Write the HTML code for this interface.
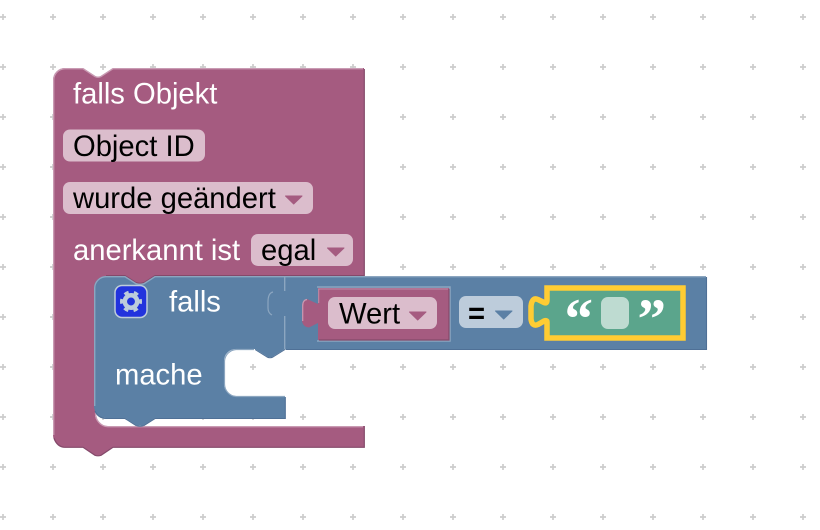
<!DOCTYPE html>
<html><head><meta charset="utf-8">
<style>
html,body{margin:0;padding:0;background:#fff;width:820px;height:530px;overflow:hidden}
svg{display:block}
text{font-family:"Liberation Sans",sans-serif;font-size:29.2px}
.w{fill:#fff}.k{fill:#000}
</style></head><body>
<svg width="820" height="530" viewBox="0 0 820 530" xmlns="http://www.w3.org/2000/svg">
<defs>
<pattern id="g" x="0" y="-8" width="50" height="50" patternUnits="userSpaceOnUse">
<path d="M0,25 h6 M3,22 v6" stroke="#ccc" stroke-width="1.7" fill="none"/>
</pattern>
</defs>
<rect width="820" height="530" fill="#fff"/>
<rect width="820" height="530" fill="url(#g)"/>

<!-- outer block -->
<path d="M53,80 A12,12 0 0 1 65,68 H83 L95,76 Q98,77.5 101,76 L113,68 H364 V290 H95 V414 A12,12 0 0 0 107,426 H364 V447 H113 L101,455 Q98,456 95,455 L83,447 H65 A12,12 0 0 1 53,435 Z" fill="#a55b80"/>
<path d="M53.7,435 V80 A11.5,11.5 0 0 1 65,68.7 H83 L95,76.5 Q98,78 101,76.5 L113,68.7 H363" fill="none" stroke="#c99bb3" stroke-width="1.4"/>
<path d="M95.7,412 A13,13 0 0 0 108,426.7 H363" fill="none" stroke="#c99bb3" stroke-width="1.4"/>
<path d="M364.3,69 V276 M364.3,426 V447.3 H113 L101,455.3 Q98,456.3 95,455.3 L83,447.3 H65 Q57,447 54,438" fill="none" stroke="#84496a" stroke-width="1.2"/>
<path d="M106,275.500 H125 L136,282.500 Q140,284 144,282.500 L155,275.500 H364" fill="none" stroke="#84496a" stroke-width="1"/>

<text class="w" x="73" y="103.500">falls Objekt</text>
<rect x="63" y="129.500" width="142" height="32" rx="7" fill="#dbbdcc"/>
<text class="k" x="73" y="156">Object ID</text>
<rect x="63" y="182" width="250" height="32" rx="7" fill="#dbbdcc"/>
<text class="k" x="73" y="208">wurde geändert</text>
<path d="M285.500,196 H302 L293.700,204 Z" fill="#a55b80" stroke="#a55b80" stroke-width="1" stroke-linejoin="round"/>
<text class="w" x="73" y="260">anerkannt ist</text>
<rect x="251" y="234" width="102" height="32" rx="7" fill="#dbbdcc"/>
<text class="k" x="261" y="260">egal</text>
<path d="M327.500,248 H344 L335.700,256 Z" fill="#a55b80" stroke="#a55b80" stroke-width="1" stroke-linejoin="round"/>

<!-- blue block -->
<path d="M94,288 A12,12 0 0 1 106,276 H125 L136,283 Q140,284.500 144,283 L155,276 H706 V349 H285 L273,356.500 Q270,358 267,356.500 L255,349 H236 A12,12 0 0 0 224,361 V384 A12,12 0 0 0 236,396 H285 V418 H155 L144,425 Q140,426.500 136,425 L125,418 H106 A12,12 0 0 1 94,406 Z" fill="#5b80a5"/>
<path d="M94.700,406 V288 A11.500,11.500 0 0 1 106,276.700 H125 L136,283.700 Q140,285 144,283.700 L155,276.700 H706" fill="none" stroke="#8ca6c0" stroke-width="1.400"/>
<path d="M284.700,277 V291 M284.700,316 V349" fill="none" stroke="#8ca6c0" stroke-width="1.400"/>
<path d="M273,292 Q268,293 268,302 V308 Q268,313 272,315" fill="none" stroke="#8ca6c0" stroke-width="1.200"/>
<path d="M254,349.500 H236 A12.500,12.500 0 0 0 224.500,361 V384 A12.500,12.500 0 0 0 236,396.500 H285" fill="none" stroke="#8ca6c0" stroke-width="1.200"/>
<path d="M706.500,277 V349.500 H285.500 M285.300,397 V418.500 H155 L144,425.500 Q140,427 136,425.500 L125,418.500 H106 Q98,418 95,411" fill="none" stroke="#4f7096" stroke-width="1.100"/>
<path d="M285,349.500 L273,357 Q270,358.500 267,357 L255,349.500" fill="none" stroke="#4f7096" stroke-width="1"/>

<!-- gear icon -->
<rect x="115" y="285.500" width="32" height="32" rx="7" fill="#2233dd" stroke="#bdccdb" stroke-width="1.500"/>
<circle cx="131" cy="301.500" r="6.200" fill="none" stroke="#bdccdb" stroke-width="4.500"/>
<circle cx="131" cy="301.500" r="9.300" fill="none" stroke="#bdccdb" stroke-width="3.400" stroke-dasharray="4.500 5.240" transform="rotate(-14 131 301.500)"/>

<text class="w" x="169" y="311.500">falls</text>
<text class="w" x="115" y="384.500">mache</text>

<!-- Wert block -->
<path d="M317,287 H450 V341 H317" fill="none" stroke="#8ca6c0" stroke-width="1.500"/>
<path d="M318,288 H449 V340 H318 V323 L309,327.500 Q303,327 302,321 V306 Q302,300 307,299 L318,304 Z" fill="#a55b80"/>
<path d="M318.700,303 V289 H448" fill="none" stroke="#c08ea7" stroke-width="1"/>
<path d="M302.700,321 V306 Q302.700,300 307,299.500" fill="none" stroke="#c99bb3" stroke-width="1.200"/>
<path d="M449,289 V340 H319" fill="none" stroke="#84496a" stroke-width="1.200"/>
<rect x="328" y="297" width="109" height="32" rx="7" fill="#dbbdcc"/>
<text class="k" x="339" y="323.500">Wert</text>
<path d="M409.500,312 H426 L417.700,320 Z" fill="#a55b80" stroke="#a55b80" stroke-width="1" stroke-linejoin="round"/>

<!-- = dropdown -->
<rect x="459" y="296" width="64" height="32" rx="7" fill="#bdccdb"/>
<text class="k" x="468" y="323" style="font-weight:bold">=</text>
<path d="M495.500,311 H512 L503.700,319 Z" fill="#5b80a5" stroke="#5b80a5" stroke-width="1" stroke-linejoin="round"/>

<!-- text block -->
<path d="M547,288 H683 V338 H547 V322 Q547,320 544,321 L538,324.500 Q532,327 531,319 V306 Q532,297 538,299.500 L544,302.500 Q547,304 547,300 Z" fill="#5ba58c" stroke="#ffcc33" stroke-width="5.500" stroke-linejoin="miter"/>
<text x="564.500" y="338" fill="#fff" style="font-family:'Liberation Serif',serif;font-size:57px;font-weight:bold">“</text>
<text x="637.500" y="338" fill="#fff" style="font-family:'Liberation Serif',serif;font-size:57px;font-weight:bold">”</text>
<rect x="601" y="297" width="28" height="32" rx="7" fill="#bedbd1"/>
</svg>
</body></html>
